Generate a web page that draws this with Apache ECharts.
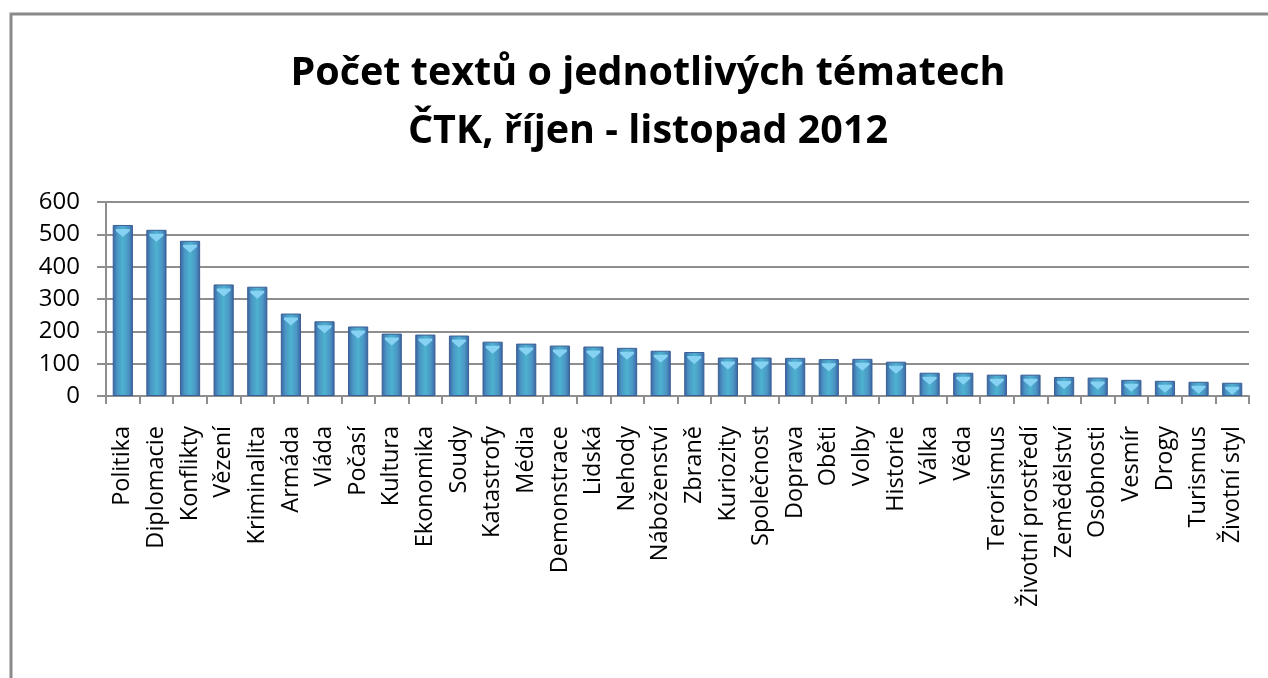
<!DOCTYPE html>
<html>
<head>
<meta charset="utf-8">
<title>Počet textů o jednotlivých tématech</title>
<script src="https://cdn.jsdelivr.net/npm/echarts@6/dist/echarts.min.js"></script>
<style>
  html, body { margin: 0; padding: 0; background: #fff; }
  #chart { width: 1268px; height: 678px; }
</style>
</head>
<body>
<div id="chart"></div>
<script>
// témata (kategorie osy x)
const topics = [
  "Politika", "Diplomacie", "Konflikty", "Vězení", "Kriminalita", "Armáda",
  "Vláda", "Počasí", "Kultura", "Ekonomika", "Soudy", "Katastrofy", "Média",
  "Demonstrace", "Lidská", "Nehody", "Náboženství", "Zbraně", "Kuriozity",
  "Společnost", "Doprava", "Oběti", "Volby", "Historie", "Válka", "Věda",
  "Terorismus", "Životní prostředí", "Zemědělství", "Osobnosti", "Vesmír",
  "Drogy", "Turismus", "Životní styl"
];
// počet textů
const counts = [
  529, 514, 480, 345, 338, 255,
  231, 215, 193, 190, 187, 168, 162,
  156, 153, 149, 140, 136, 119,
  119, 118, 114, 115, 106, 72, 72,
  66, 66, 59, 57, 50,
  47, 44, 41
];
const yTicks = { min: 0, max: 600, interval: 100 };

const titleText = "Počet textů o jednotlivých tématech\nČTK, říjen - listopad 2012";

const chart = echarts.init(document.getElementById("chart"), null, { renderer: "canvas" });

// horizontální přechod sloupce (tmavé okraje, světlejší střed)
const barFill = new echarts.graphic.LinearGradient(0, 0, 1, 0, [
  { offset: 0, color: "#3a62a0" },
  { offset: 0.22, color: "#4a95c4" },
  { offset: 0.5, color: "#4db2cf" },
  { offset: 0.78, color: "#4a95c4" },
  { offset: 1, color: "#3a62a0" },
]);

const option = {
  backgroundColor: "#ffffff",
  animation: false,
  title: {
    text: titleText,
    left: 643,
    top: 40,
    textAlign: "center",
    textStyle: {
      fontFamily: "Open Sans",
      fontWeight: "bold",
      fontSize: 39.5,
      lineHeight: 58,
      color: "#000",
    },
  },
  graphic: [
    {
      // rámeček grafu
      type: "rect",
      shape: { x: 11, y: 14, width: 1300, height: 700 },
      style: { fill: "none", stroke: "#8a8a8a", lineWidth: 3 },
      silent: true,
    },
  ],
  grid: {
    left: 106,
    right: 19,
    top: 202,
    bottom: 282,
    containLabel: false,
  },
  xAxis: {
    type: "category",
    data: topics,
    axisLine: { lineStyle: { color: "#8e8e8e", width: 2 } },
    axisTick: {
      show: true,
      alignWithLabel: false,
      length: 8,
      lineStyle: { color: "#8e8e8e", width: 2 },
    },
    axisLabel: {
      interval: 0,
      rotate: 90,
      margin: 30,
      fontFamily: "Open Sans",
      fontSize: 23.5,
      color: "#000",
    },
  },
  yAxis: {
    type: "value",
    min: yTicks.min,
    max: yTicks.max,
    interval: yTicks.interval,
    axisLine: { show: true, lineStyle: { color: "#8e8e8e", width: 2 } },
    axisTick: { show: true, length: 9, lineStyle: { color: "#8e8e8e", width: 2 } },
    splitLine: { lineStyle: { color: "#8e8e8e", width: 2 } },
    axisLabel: {
      margin: 26,
      fontFamily: "Open Sans",
      fontSize: 24,
      color: "#000",
    },
  },
  series: [
    {
      name: "Počet textů",
      type: "bar",
      data: counts,
      barWidth: "60%",
      barGap: "-100%",
      itemStyle: {
        color: barFill,
        borderColor: "#3a5f96",
        borderWidth: 1,
      },
    },
    {
      // světlá špička na vrcholu sloupce
      name: "cap",
      type: "pictorialBar",
      data: counts,
      barGap: "-100%",
      symbol: "path://M0,0 L20,0 L20,2 L10,8 L0,2 Z",
      symbolSize: ["60%", 8],
      symbolPosition: "end",
      symbolOffset: [0, "50%"],
      itemStyle: { color: "#86d2f3" },
      silent: true,
      z: 3,
    },
  ],
};

option && chart.setOption(option);
</script>
</body>
</html>
